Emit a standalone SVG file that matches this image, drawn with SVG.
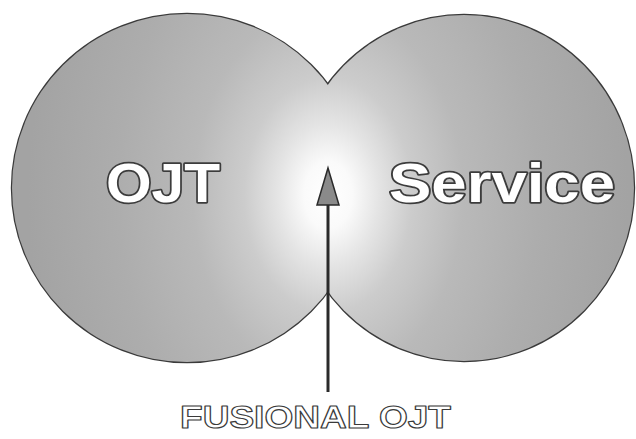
<svg xmlns="http://www.w3.org/2000/svg" width="636" height="439" viewBox="0 0 636 439">
  <defs>
    <radialGradient id="glow" gradientUnits="userSpaceOnUse" cx="328" cy="195" r="300" gradientTransform="translate(328,195) scale(1,1.4) translate(-328,-195)">
      <stop offset="0" stop-color="#ffffff"/>
      <stop offset="0.08" stop-color="#fafafa"/>
      <stop offset="0.17" stop-color="#e4e4e4"/>
      <stop offset="0.28" stop-color="#cccccc"/>
      <stop offset="0.45" stop-color="#b9b9b9"/>
      <stop offset="0.7" stop-color="#adadad"/>
      <stop offset="1" stop-color="#a3a3a3"/>
    </radialGradient>
    <style>
      .outline { fill: none; stroke: #3a3a3a; stroke-width: 2.4; }
      .fill { fill: url(#glow); stroke: none; }
      .big { font-family: "Liberation Sans", Arial, sans-serif; font-weight: 700; font-size: 56px; fill: #ffffff; stroke: #3c3c3c; stroke-width: 3.4; paint-order: stroke; stroke-linejoin: round; }
      .caption { font-family: "Liberation Sans", Arial, sans-serif; font-weight: 700; font-size: 31px; fill: #ffffff; stroke: #3a3a3a; stroke-width: 1.1; stroke-linejoin: round; }
      .head { fill: #8a8a8a; stroke: #2a2a2a; stroke-width: 1.5; }
      .shaft { stroke: #2a2a2a; stroke-width: 3; }
    </style>
  </defs>
  <rect width="636" height="439" fill="#ffffff"/>
  <g id="circles-outline">
    <ellipse class="outline" cx="187" cy="188" rx="175" ry="174"/>
    <ellipse class="outline" cx="464" cy="188" rx="170" ry="173"/>
  </g>
  <g id="node-ojt">
    <ellipse class="fill" cx="187" cy="188" rx="175" ry="174"/>
  </g>
  <g id="node-service">
    <ellipse class="fill" cx="464" cy="188" rx="170" ry="173"/>
  </g>
  <g id="labels">
    <text class="big" x="106" y="202" textLength="114" lengthAdjust="spacingAndGlyphs">OJT</text>
    <text class="big" x="389" y="202" textLength="226" lengthAdjust="spacingAndGlyphs">Service</text>
  </g>
  <g id="connectors">
    <line class="shaft" x1="328" y1="392" x2="328" y2="203"/>
    <polygon class="head" points="328,168 339,205 317,205"/>
  </g>
  <g id="node-fusional">
    <text class="caption" x="180" y="428" textLength="271" lengthAdjust="spacingAndGlyphs">FUSIONAL OJT</text>
  </g>
</svg>
